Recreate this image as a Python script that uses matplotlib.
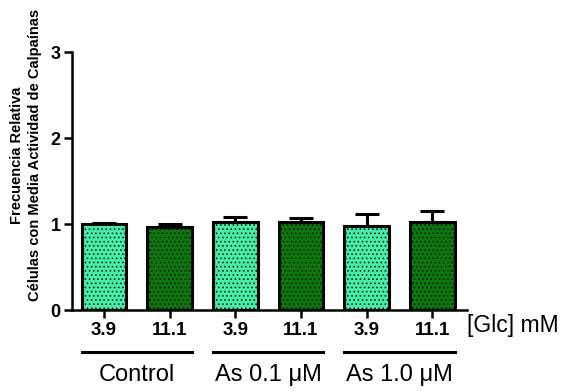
import matplotlib.pyplot as plt
import numpy as np

plt.rcParams['font.family'] = ['Liberation Sans', 'DejaVu Sans']
plt.rcParams['hatch.linewidth'] = 0.6

glc = ["3.9", "11.1", "3.9", "11.1", "3.9", "11.1"]
groups = ["Control", "As 0.1 \u03bcM", "As 1.0 \u03bcM"]
means = [1.00, 0.97, 1.03, 1.02, 0.98, 1.02]
errs = [0.01, 0.03, 0.05, 0.05, 0.14, 0.13]
colors = ["#3ef0a8", "#077a07"] * 3

fig = plt.figure(figsize=(5.71, 3.92), dpi=100)
ax = fig.add_axes([0.126, 0.209, 0.692, 0.658])

x = np.arange(len(means))
w = 0.68
ax.bar(x, means, width=w, color=colors, edgecolor="black", linewidth=2.2,
       hatch="....", zorder=2)
ax.errorbar(x, means, yerr=[np.zeros(len(errs)), errs], fmt="none",
            ecolor="black", elinewidth=2.2, capsize=8.5, capthick=2.2, zorder=1)

ax.set_xlim(-0.49, 5.53)
ax.set_ylim(0, 3)
ax.set_yticks([0, 1, 2, 3])
ax.set_xticks(x)
ax.set_xticklabels(glc, fontweight="bold", fontsize=13.5)
for lab in ax.get_yticklabels():
    lab.set_fontweight("bold")
    lab.set_fontsize(13)
ax.tick_params(axis="both", width=1.8, length=6, direction="out")
ax.tick_params(axis="x", pad=2.5)
ax.tick_params(axis="y", pad=2)
for s in ["top", "right"]:
    ax.spines[s].set_visible(False)
for s in ["left", "bottom"]:
    ax.spines[s].set_linewidth(1.8)

ax.text(1.0, -0.06, "[Glc] mM", transform=ax.transAxes, fontsize=16.5,
        ha="left", va="center")

trans = ax.get_xaxis_transform()
for i, g in enumerate(groups):
    x0 = 2 * i - w / 2
    x1 = 2 * i + 1 + w / 2
    ax.plot([x0, x1], [-0.163, -0.163], color="black", lw=2.2, transform=trans,
            clip_on=False)
    ax.text((x0 + x1) / 2, -0.252, g, transform=trans, ha="center", va="center",
            fontsize=17)

fig.text(0.045, 0.605, "Frecuencia Relativa\nC\u00e9lulas con Media Actividad de Calpa\u00ednas",
         rotation=90, ha="center", va="center", fontsize=10.5, fontweight="bold",
         linespacing=1.35)

fig.savefig("out.png", dpi=100)
